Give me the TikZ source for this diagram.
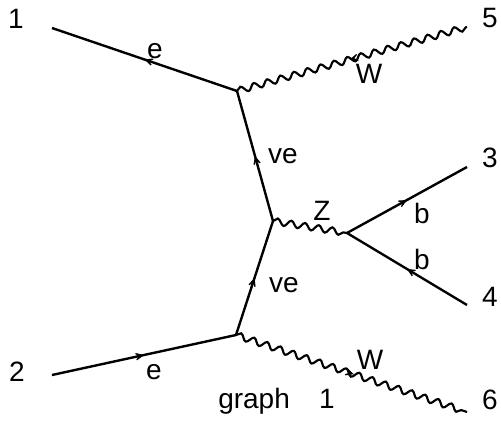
\documentclass[tikz,border=0pt]{standalone}
\usepackage{fontspec}
\setmainfont{Liberation Sans}
\usetikzlibrary{arrows.meta,decorations.markings,decorations.pathmorphing}

\begin{document}
\begin{tikzpicture}[
      x=0.75pt,y=-0.75pt,
      lbl/.style={inner sep=0pt,font=\fontsize{21}{24}\selectfont},
      fermion/.style={line width=1.8pt,postaction={decorate},
                  decoration={markings,mark=at position 0.5 with {\arrow[line width=1pt]{Stealth[length=10pt,width=9.5pt,inset=6.5pt]}}}},
      boson/.style={line width=1.6pt,decorate,decoration={snake,amplitude=2.4pt,segment length=10.4pt}},
      bosonarrow/.style={postaction={decorate,decoration={markings,mark=at position 0.51 with {\arrow[line width=1pt]{Stealth[length=10pt,width=9.5pt,inset=6.5pt]}}}}},
    ]
    \useasboundingbox (0,0) rectangle (501,421);
    % vertices
    \coordinate (top) at (237,91);
    \coordinate (mid) at (273,221);
    \coordinate (low) at (236,335);
    \coordinate (split) at (347,233);
    % outer ends
    \coordinate (end1) at (52,28);
    \coordinate (end2) at (52,375);
    \coordinate (end3) at (467,167);
    \coordinate (end4) at (467,305);
    \coordinate (end5) at (467,27);
    \coordinate (end6) at (467,412);

    \node[lbl] (n1) at (16,19) {1};
    \node[lbl] (n2) at (17,372) {2};
    \node[lbl] (n3) at (490,158) {3};
    \node[lbl] (n4) at (490,297) {4};
    \node[lbl] (n5) at (490,18) {5};
    \node[lbl] (n6) at (490,400) {6};

    \draw[fermion] (top) -- (end1);
    \draw[fermion] (end2) -- (low);
    \draw[fermion] (low) -- (mid);
    \draw[fermion] (mid) -- (top);
    \draw[fermion] (split) -- (end3);
    \draw[fermion] (end4) -- (split);

    \draw[boson] (top) -- (end5);
    \draw[boson] (low) -- (end6);
    \draw[boson] (mid) -- (split);
    % arrows on the W lines
    \path[bosonarrow] (end5) -- (top);
    \path[bosonarrow] (low) -- (end6);

    \node[lbl] (e1) at (155,51) {e};
    \node[lbl] (e2) at (154,372) {e};
    \node[lbl] (ve1) at (283,156) {ve};
    \node[lbl] (ve2) at (284,285) {ve};
    \node[lbl] (w1) at (369,74) {W};
    \node[lbl] (w2) at (370,360) {W};
    \node[lbl] (z1) at (322,211) {Z};
    \node[lbl] (b1) at (422,213) {b};
    \node[lbl] (b2) at (422,259) {b};
    \node[lbl,anchor=base west] (cap) at (218,408) {graph\hspace{22pt}1};
  \end{tikzpicture}
\end{document}
